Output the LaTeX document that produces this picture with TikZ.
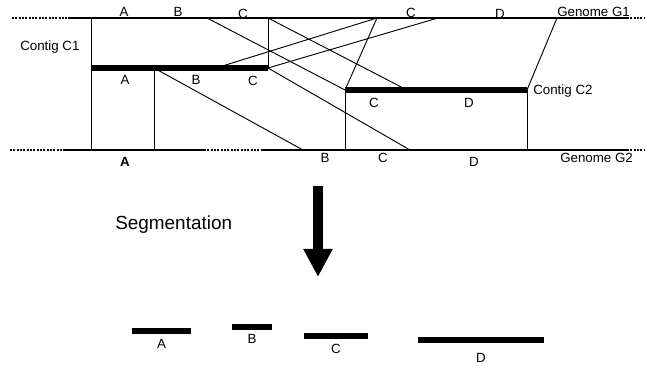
\documentclass[tikz,border=0pt]{standalone}
\usepackage{fontspec}
\setmainfont{Liberation Sans}
\usetikzlibrary{arrows.meta}
\tikzset{
  genome/.style={line width=1.5pt},
  gapline/.style={line width=1.5pt, dash pattern=on 1.5pt off 1pt},
  contig/.style={line width=4.8pt},
  hit/.style={line width=0.7pt},
  lbl/.style={inner sep=0pt, font=\fontsize{10}{12}\selectfont},
}
\begin{document}
\begin{tikzpicture}[x=0.75pt, y=-0.75pt]
  \useasboundingbox (0,0) rectangle (645,366);
  % genome G1
  \foreach \n/\x in {w/12, a/68, b/627, e/645, 1/91, 2/207, 3/268, 4/377, 5/438, 6/557}
    \coordinate (g1-\n) at (\x,18);
  \draw[gapline] (g1-w) -- (g1-a);
  \draw[genome] (g1-a) -- (g1-b);
  \draw[gapline] (g1-b) -- (g1-e);
  \node[lbl, anchor=west] (g1name) at (557,12) {Genome G1};
  % genome G2
  \foreach \n/\x in {w/10, a/64, b/204, c/263, d/627, e/645, 1/91, 2/154, 3/303, 4/345, 5/410, 6/527}
    \coordinate (g2-\n) at (\x,150);
  \draw[gapline] (g2-w) -- (g2-a);
  \draw[genome] (g2-a) -- (g2-b);
  \draw[gapline] (g2-b) -- (g2-c);
  \draw[genome] (g2-c) -- (g2-d);
  \draw[gapline] (g2-d) -- (g2-e);
  \node[lbl, anchor=west] (g2name) at (560,158) {Genome G2};
  % contigs
  \foreach \n/\x in {1/91, 2/154, 3/216, 4/268}
    \coordinate (c1-\n) at (\x,68);
  \foreach \n/\x in {1/345, 2/407, 3/527}
    \coordinate (c2-\n) at (\x,90);
  \draw[contig] (c1-1) -- (c1-4);
  \draw[contig] (c2-1) -- (c2-3);
  \node[lbl, anchor=west] (c1name) at (20,47) {Contig C1};
  \node[lbl, anchor=west] (c2name) at (533,91) {Contig C2};
  % matches
  \draw[hit] (g1-1) -- (g2-1);
  \draw[hit] (c1-2) -- (g2-2);
  \draw[hit] (g1-3) -- (c1-4);
  \draw[hit] (g1-2) -- (c2-1);
  \draw[hit] (g1-3) -- (c2-2);
  \draw[hit] (c1-4) -- (g2-5);
  \draw[hit] (c1-3) -- (g1-4);
  \draw[hit] (c1-4) -- (g1-5);
  \draw[hit] (c1-2) -- (g2-3);
  \draw[hit] (g1-4) -- (c2-1);
  \draw[hit] (g1-6) -- (c2-3);
  \draw[hit] (c2-1) -- (g2-4);
  \draw[hit] (c2-3) -- (g2-6);
  % block labels
  \foreach \n/\x/\y/\t in {a/124/12/A, b/178/12/B, c/243/13.5/C, d/411/12.5/C, e/500/13.5/D}
    \node[lbl] (g1l-\n) at (\x,\y) {\t};
  \foreach \n/\x/\y/\t in {a/125/80/A, b/196/80/B, c/253/81/C}
    \node[lbl] (c1l-\n) at (\x,\y) {\t};
  \foreach \n/\x/\y/\t in {c/374/103/C, d/469/103/D}
    \node[lbl] (c2l-\n) at (\x,\y) {\t};
  \foreach \n/\x/\y/\t in {a/125/162/\textbf{A}, b/325/158/B, c/383/158/C, d/474/162/D}
    \node[lbl] (g2l-\n) at (\x,\y) {\t};
  % segmentation step
  \node[inner sep=0pt, anchor=west, font=\fontsize{14.2}{17}\selectfont] (segtext) at (115,225) {Segmentation};
  \coordinate (segtop) at (318,186);
  \coordinate (segtip) at (318,277);
  \draw[line width=6.8pt, -{Triangle[width=20.5pt, length=21pt]}] (segtop) -- (segtip);
  % segments
  \foreach \n/\xa/\xb/\y/\ly in {A/132/191/331/344, B/232/272/327/339, C/304/368/336/349, D/418/544/340/358} {
    \coordinate (s\n-l) at (\xa,\y);
    \coordinate (s\n-r) at (\xb,\y);
    \draw[contig] (s\n-l) -- (s\n-r);
    \node[lbl] (s\n) at ({(\xa+\xb)/2},\ly) {\n};
  }
\end{tikzpicture}
\end{document}
